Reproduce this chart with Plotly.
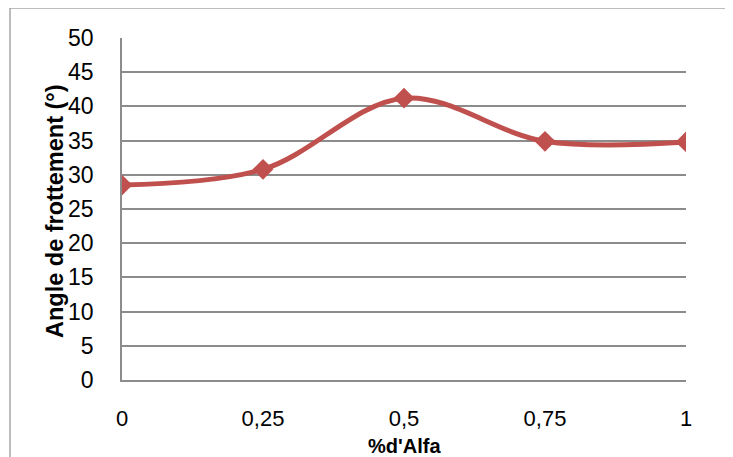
import plotly.graph_objects as go

x_vals = [0, 0.25, 0.5, 0.75, 1]
x_labels = ["0", "0,25", "0,5", "0,75", "1"]
angle = [28.5, 30.8, 41.2, 34.9, 34.8]
y_ticks = [0, 5, 10, 15, 20, 25, 30, 35, 40, 45, 50]

W, H = 733, 457
OFF = 8  # page body margin
ml, mt = 122 - OFF, 38 - OFF
pw, ph = 564, 342
mr = W - ml - pw
mb = H - mt - ph

def px_x(p):
    return (p - OFF - ml) / pw

def px_y(p):
    return (mt + ph - (p - OFF)) / ph

fig = go.Figure()
fig.add_trace(go.Scatter(
    x=x_vals, y=angle, mode="lines+markers",
    line=dict(color="#C0504D", width=5, shape="spline", smoothing=1),
    marker=dict(symbol="diamond", size=16, color="#C0504D"),
    showlegend=False, hoverinfo="skip",
))

font = "Liberation Sans, Arial, sans-serif"
fig.update_layout(
    width=W, height=H,
    margin=dict(l=ml, r=mr, t=mt, b=mb),
    paper_bgcolor="white", plot_bgcolor="white",
    font=dict(family=font, size=23, color="black"),
    xaxis=dict(
        range=[0, 1], tickvals=x_vals, ticktext=x_labels,
        showgrid=False, zeroline=False,
        showline=True, linecolor="#8c8c8c", linewidth=1.5,
        ticks="", ticklabelstandoff=18,
        tickfont=dict(size=22),
    ),
    yaxis=dict(
        range=[0, 50], tickvals=y_ticks,
        showgrid=True, gridcolor="#8c8c8c", gridwidth=1.5,
        zeroline=False,
        showline=True, linecolor="#8c8c8c", linewidth=1.5,
        ticks="", ticklabelstandoff=22,
        tickfont=dict(size=23),
    ),
    shapes=[dict(
        type="rect", xref="paper", yref="paper",
        x0=px_x(10), x1=px_x(W + 30), y0=px_y(H + 30), y1=px_y(8),
        line=dict(color="#a6a6a6", width=1.5), fillcolor="rgba(0,0,0,0)",
        layer="below",
    )],
    annotations=[
        dict(text="<b>%d'Alfa</b>", xref="paper", yref="paper",
             x=px_x(404), y=px_y(446), showarrow=False,
             xanchor="center", yanchor="middle", font=dict(size=20)),
        dict(text="<b>Angle de frottement (°)</b>", xref="paper", yref="paper",
             x=px_x(55), y=px_y(211), showarrow=False, textangle=-90,
             xanchor="center", yanchor="middle", font=dict(size=23.5)),
    ],
)

fig.write_html("out.html")
